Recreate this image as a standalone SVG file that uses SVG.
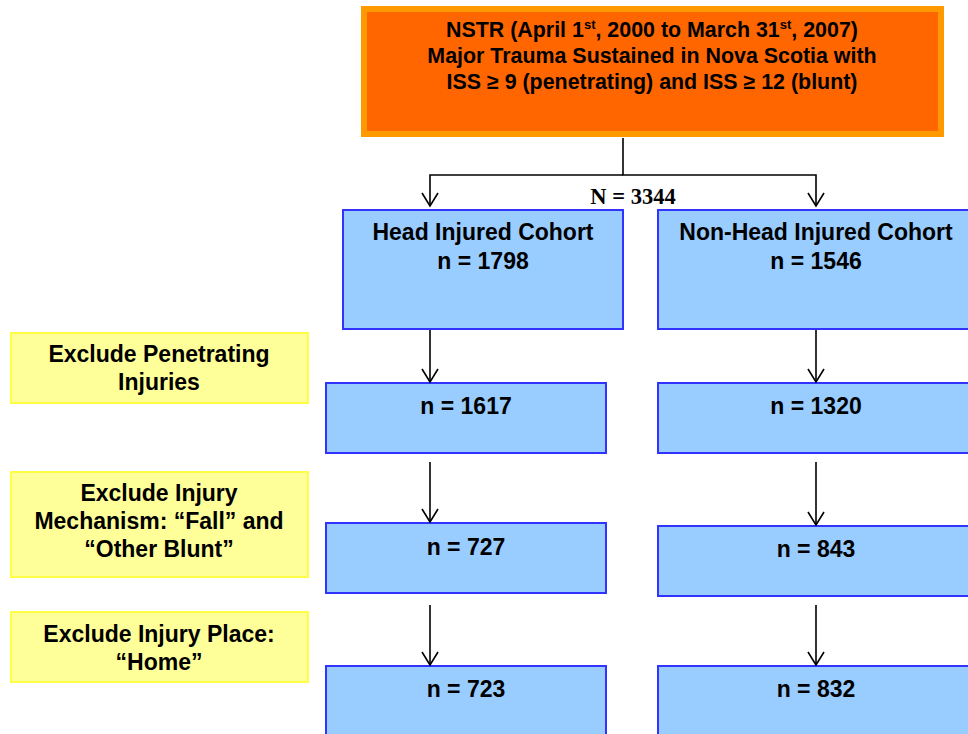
<svg xmlns="http://www.w3.org/2000/svg" width="968" height="734" viewBox="0 0 968 734">
<style>
  .t { font-family: "Liberation Sans", Arial, sans-serif; font-weight: bold; fill: #000; text-anchor: middle; }
  .ttl { font-size: 21.4px; }
  .bl { font-size: 23px; }
  .yl { font-size: 23px; }
  .blue { fill: #99CCFF; stroke: #3333FF; stroke-width: 2; }
  .yel { fill: #FFFF99; stroke: #FFFF44; stroke-width: 2; }
  .conn { fill: none; stroke: #000; stroke-width: 1.6; }
</style>
<defs>
  <marker id="arr" markerWidth="20" markerHeight="20" refX="14" refY="10" orient="auto" markerUnits="userSpaceOnUse" viewBox="0 0 20 20">
    <path d="M1,2 L14,10 L1,18" fill="none" stroke="#000" stroke-width="1.6"/>
  </marker>
</defs>
<rect width="968" height="734" fill="#fff"/>

<g id="top">
  <rect x="364" y="9" width="577" height="125" fill="#FF6600" stroke="#FF9900" stroke-width="6"/>
  <text class="t ttl" x="652" y="37">NSTR (April 1<tspan font-size="13" dy="-8">st</tspan><tspan dy="8">, 2000 to March 31</tspan><tspan font-size="13" dy="-8">st</tspan><tspan dy="8">, 2007)</tspan></text>
  <text class="t ttl" x="652" y="63">Major Trauma Sustained in Nova Scotia with</text>
  <text class="t ttl" x="652" y="89">ISS ≥ 9 (penetrating) and ISS ≥ 12 (blunt)</text>
</g>

<g id="n-total">
  <text x="633" y="204" font-family="'Liberation Serif', 'Times New Roman', serif" font-weight="bold" font-size="22.5" text-anchor="middle">N = 3344</text>
</g>

<g id="head">
  <rect class="blue" x="343" y="210" width="280" height="119"/>
  <text class="t bl" x="483" y="240">Head Injured Cohort</text>
  <text class="t bl" x="483" y="269">n = 1798</text>
</g>
<g id="nonhead">
  <rect class="blue" x="658" y="210" width="320" height="119"/>
  <text class="t bl" x="816" y="240">Non-Head Injured Cohort</text>
  <text class="t bl" x="816" y="269">n = 1546</text>
</g>

<g id="h1617">
  <rect class="blue" x="326" y="383" width="280" height="70"/>
  <text class="t bl" x="466" y="414">n = 1617</text>
</g>
<g id="n1320">
  <rect class="blue" x="658" y="383" width="320" height="70"/>
  <text class="t bl" x="816" y="414">n = 1320</text>
</g>

<g id="h727">
  <rect class="blue" x="326" y="523" width="280" height="70"/>
  <text class="t bl" x="466" y="555">n = 727</text>
</g>
<g id="n843">
  <rect class="blue" x="658" y="526" width="320" height="70"/>
  <text class="t bl" x="816" y="557">n = 843</text>
</g>

<g id="h723">
  <rect class="blue" x="326" y="666" width="280" height="80"/>
  <text class="t bl" x="466" y="697">n = 723</text>
</g>
<g id="n832">
  <rect class="blue" x="658" y="666" width="320" height="80"/>
  <text class="t bl" x="816" y="697">n = 832</text>
</g>

<g id="ex1">
  <rect class="yel" x="11" y="333" width="297" height="70"/>
  <text class="t yl" x="159" y="362">Exclude Penetrating</text>
  <text class="t yl" x="159" y="390">Injuries</text>
</g>
<g id="ex2">
  <rect class="yel" x="11" y="472" width="297" height="105"/>
  <text class="t yl" x="159" y="501">Exclude Injury</text>
  <text class="t yl" x="159" y="529">Mechanism: “Fall” and</text>
  <text class="t yl" x="159" y="557">“Other Blunt”</text>
</g>
<g id="ex3">
  <rect class="yel" x="11" y="612" width="297" height="70"/>
  <text class="t yl" x="159" y="642">Exclude Injury Place:</text>
  <text class="t yl" x="159" y="670">“Home”</text>
</g>

<g id="connectors">
  <path class="conn" d="M623,138 V175 H816 V206" marker-end="url(#arr)"/>
  <path class="conn" d="M623,175 H430 V206" marker-end="url(#arr)"/>
  <path class="conn" d="M430,330 V382" marker-end="url(#arr)"/>
  <path class="conn" d="M816,330 V382" marker-end="url(#arr)"/>
  <path class="conn" d="M430,462 V522" marker-end="url(#arr)"/>
  <path class="conn" d="M816,462 V525" marker-end="url(#arr)"/>
  <path class="conn" d="M430,605 V665" marker-end="url(#arr)"/>
  <path class="conn" d="M816,605 V665" marker-end="url(#arr)"/>
</g>
</svg>
